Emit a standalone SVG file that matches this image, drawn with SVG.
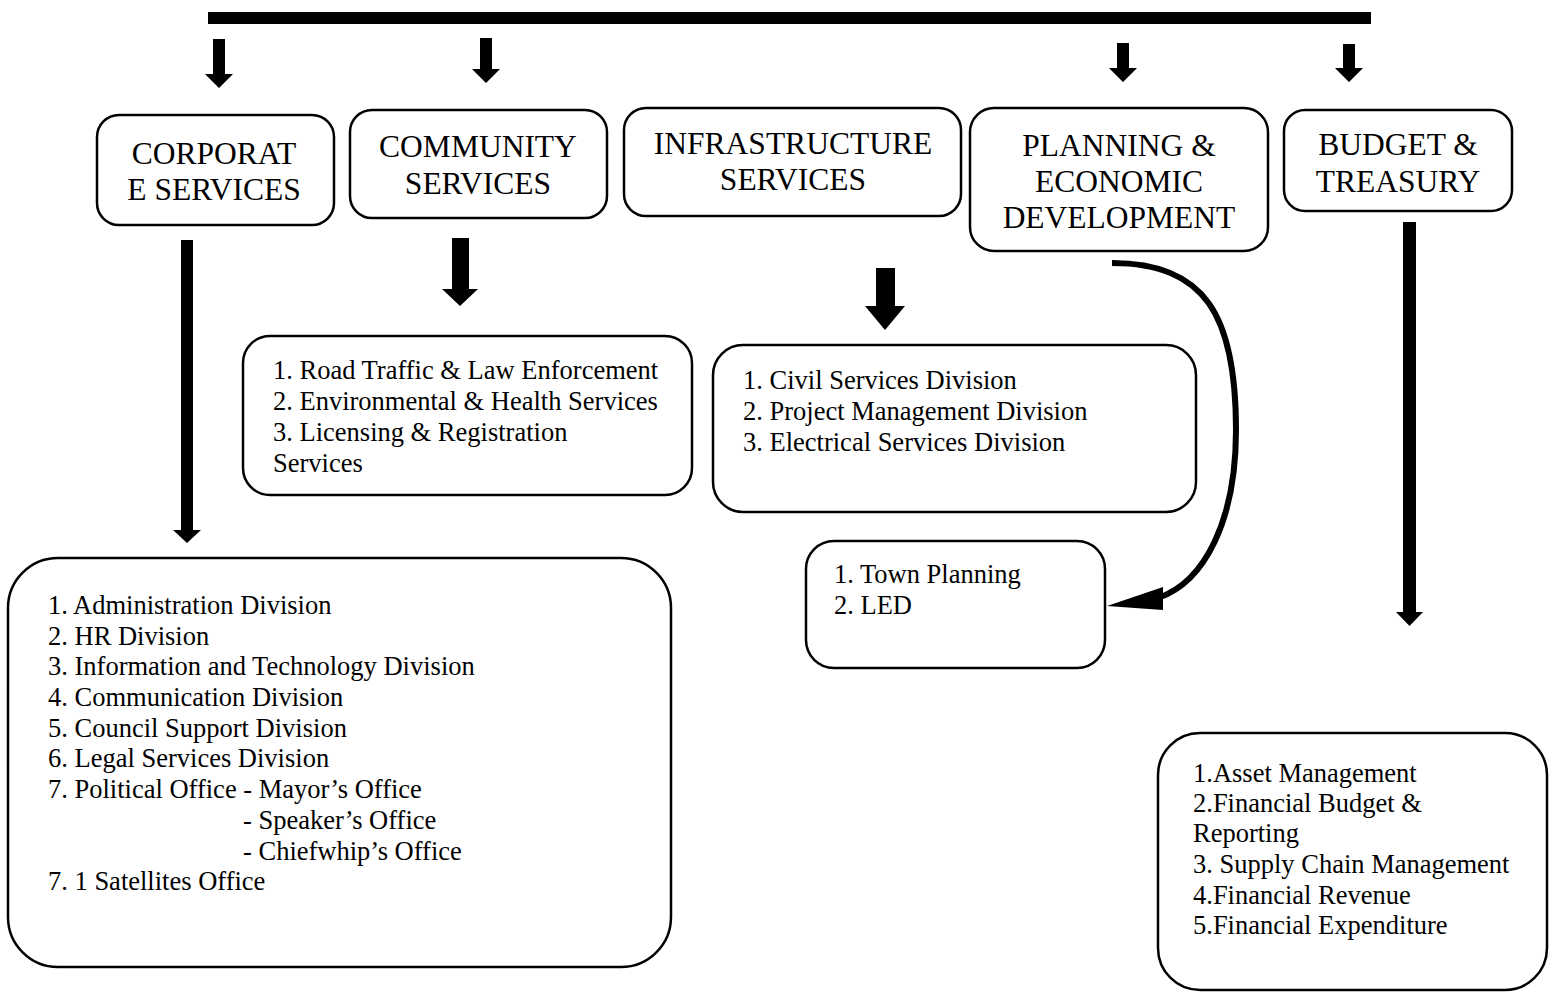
<svg xmlns="http://www.w3.org/2000/svg" width="1549" height="992" viewBox="0 0 1549 992">
<style>
.box{fill:#fff;stroke:#000;stroke-width:2.5}
.hd{font-family:"Liberation Serif","Times New Roman",serif;font-size:31.5px;text-anchor:middle;fill:#000}
.tx{font-family:"Liberation Serif","Times New Roman",serif;font-size:26.5px;fill:#000}
.arr{fill:#000;stroke:none}
.curve{fill:none;stroke:#000;stroke-width:6}
</style>
<rect width="1549" height="992" fill="#fff"/>
<g id="connectors">
<rect class="arr" x="208" y="12" width="1163" height="12"/>
<polygon class="arr" points="213,39 225,39 225,74 233,74 219,88 205,74 213,74"/>
<polygon class="arr" points="480,38 492,38 492,69 500,69 486,83 472,69 480,69"/>
<polygon class="arr" points="1117,43 1129,43 1129,68 1137,68 1123,82 1109,68 1117,68"/>
<polygon class="arr" points="1343,44 1355,44 1355,68 1363,68 1349,82 1335,68 1343,68"/>
<polygon class="arr" points="181,240 193,240 193,530 201,530 187,543 173,530 181,530"/>
<polygon class="arr" points="1403,222 1416,222 1416,612 1423,612 1409.5,626 1396,612 1403,612"/>
<polygon class="arr" points="452,238 469,238 469,289 478,289 460,306 442,289 452,289"/>
<polygon class="arr" points="876,268 895,268 895,306 905,306 885,330 865,306 876,306"/>
<path class="curve" d="M1112,263 C1205,263 1236,315 1236,430 C1236,520 1205,582 1158,598"/>
<polygon class="arr" points="1107,606 1163,587 1163,610"/>
</g>
<g id="corporate">
<rect class="box" x="97" y="115" width="237" height="110" rx="22"/>
<text class="hd" x="214" y="164">CORPORAT</text>
<text class="hd" x="214" y="200">E SERVICES</text>
</g>
<g id="community">
<rect class="box" x="350" y="110" width="257" height="108" rx="22"/>
<text class="hd" x="478" y="157">COMMUNITY</text>
<text class="hd" x="478" y="194">SERVICES</text>
</g>
<g id="infrastructure">
<rect class="box" x="624" y="108" width="337" height="108" rx="22"/>
<text class="hd" x="793" y="154">INFRASTRUCTURE</text>
<text class="hd" x="793" y="190">SERVICES</text>
</g>
<g id="planning">
<rect class="box" x="970" y="108" width="298" height="143" rx="24"/>
<text class="hd" x="1119" y="156">PLANNING &amp;</text>
<text class="hd" x="1119" y="192">ECONOMIC</text>
<text class="hd" x="1119" y="228">DEVELOPMENT</text>
</g>
<g id="budget">
<rect class="box" x="1284" y="110" width="228" height="101" rx="21"/>
<text class="hd" x="1398" y="155">BUDGET &amp;</text>
<text class="hd" x="1398" y="192">TREASURY</text>
</g>
<g id="community-divisions">
<rect class="box" x="243" y="336" width="449" height="159" rx="27"/>
<text class="tx" x="273" y="379">1. Road Traffic &amp; Law Enforcement</text>
<text class="tx" x="273" y="410">2. Environmental &amp; Health Services</text>
<text class="tx" x="273" y="441">3. Licensing &amp; Registration</text>
<text class="tx" x="273" y="472">Services</text>
</g>
<g id="infrastructure-divisions">
<rect class="box" x="713" y="345" width="483" height="167" rx="30"/>
<text class="tx" x="743" y="389">1. Civil Services Division</text>
<text class="tx" x="743" y="420">2. Project Management Division</text>
<text class="tx" x="743" y="451">3. Electrical Services Division</text>
</g>
<g id="planning-divisions">
<rect class="box" x="806" y="541" width="299" height="127" rx="28"/>
<text class="tx" x="834" y="583">1. Town Planning</text>
<text class="tx" x="834" y="614">2. LED</text>
</g>
<g id="corporate-divisions">
<rect class="box" x="8" y="558" width="663" height="409" rx="50"/>
<text class="tx" x="48" y="614">1. Administration Division</text>
<text class="tx" x="48" y="645">2. HR Division</text>
<text class="tx" x="48" y="675">3. Information and Technology Division</text>
<text class="tx" x="48" y="706">4. Communication Division</text>
<text class="tx" x="48" y="737">5. Council Support Division</text>
<text class="tx" x="48" y="767">6. Legal Services Division</text>
<text class="tx" x="48" y="798">7. Political Office - Mayor’s Office</text>
<text class="tx" x="243" y="829">- Speaker’s Office</text>
<text class="tx" x="243" y="860">- Chiefwhip’s Office</text>
<text class="tx" x="48" y="890">7. 1 Satellites Office</text>
</g>
<g id="budget-divisions">
<rect class="box" x="1158" y="733" width="389" height="257" rx="42"/>
<text class="tx" x="1193" y="782">1.Asset Management</text>
<text class="tx" x="1193" y="812">2.Financial Budget &amp;</text>
<text class="tx" x="1193" y="842">Reporting</text>
<text class="tx" x="1193" y="873">3. Supply Chain Management</text>
<text class="tx" x="1193" y="904">4.Financial Revenue</text>
<text class="tx" x="1193" y="934">5.Financial Expenditure</text>
</g>
</svg>
